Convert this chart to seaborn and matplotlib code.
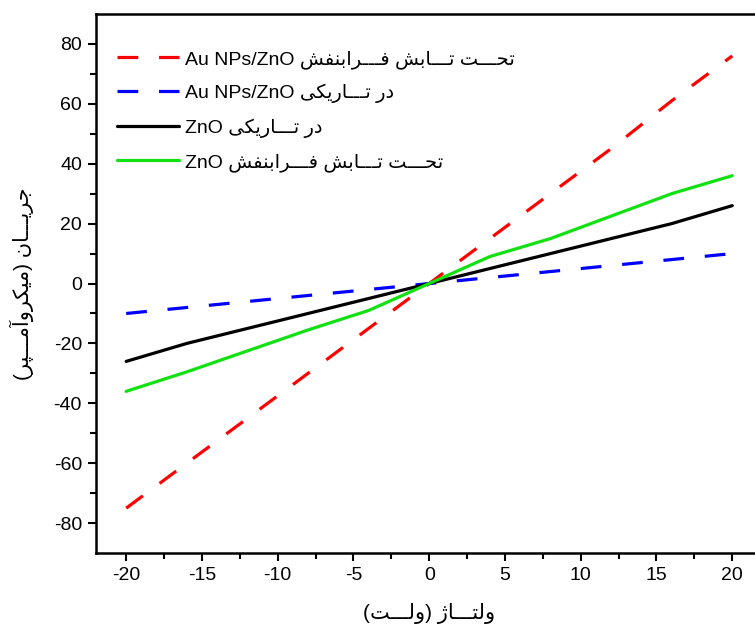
import numpy as np
import pandas as pd
import matplotlib
matplotlib.use("Agg")
import matplotlib.pyplot as plt
import seaborn as sns

# داده ها
voltage = [-20, -16, -12, -8, -4, 0, 4, 8, 12, 16, 20]
au_zno_uv = [-75, -60, -45, -30, -15, 0, 15, 30, 45, 61, 76]
au_zno_dark = [-10, -8, -6, -4, -2, 0, 2, 4, 6, 8, 10]
zno_dark = [-26, -20, -15, -10, -5, 0, 5, 10, 15, 20, 26]
zno_uv = [-36, -29.5, -22.5, -15.5, -9, 0, 9, 15, 22.5, 30, 36]

fa_uv = "تحـــت تـــابش فـــرابنفش"
fa_dark = "در تـــاریکی"
x_title = "ولتـــاژ (ولـــت)"
y_title = "جریـــان (میکروآمـــپر)"

# شکل حروف فارسی (matplotlib خودش حروف را به هم نمی چسباند)
FORMS = {
    'ا': ('\uFE8D', '\uFE8E', None, None),
    'آ': ('\uFE81', '\uFE82', None, None),
    'ب': ('\uFE8F', '\uFE90', '\uFE91', '\uFE92'),
    'پ': ('\uFB56', '\uFB57', '\uFB58', '\uFB59'),
    'ت': ('\uFE95', '\uFE96', '\uFE97', '\uFE98'),
    'ج': ('\uFE9D', '\uFE9E', '\uFE9F', '\uFEA0'),
    'ح': ('\uFEA1', '\uFEA2', '\uFEA3', '\uFEA4'),
    'د': ('\uFEA9', '\uFEAA', None, None),
    'ر': ('\uFEAD', '\uFEAE', None, None),
    'ژ': ('\uFB8A', '\uFB8B', None, None),
    'ش': ('\uFEB5', '\uFEB6', '\uFEB7', '\uFEB8'),
    'ف': ('\uFED1', '\uFED2', '\uFED3', '\uFED4'),
    'ک': ('\uFB8E', '\uFB8F', '\uFB90', '\uFB91'),
    'ل': ('\uFEDD', '\uFEDE', '\uFEDF', '\uFEE0'),
    'م': ('\uFEE1', '\uFEE2', '\uFEE3', '\uFEE4'),
    'ن': ('\uFEE5', '\uFEE6', '\uFEE7', '\uFEE8'),
    'و': ('\uFEED', '\uFEEE', None, None),
    'ی': ('\uFBFC', '\uFBFD', '\uFBFE', '\uFBFF'),
    'ـ': ('\u0640', '\u0640', '\u0640', '\u0640'),
}


def dual(c):
    return c in FORMS and FORMS[c][2] is not None


def fa(s):
    out = []
    for i, c in enumerate(s):
        if c not in FORMS:
            out.append(c)
            continue
        p = i > 0 and dual(s[i - 1])
        n = dual(c) and i + 1 < len(s) and s[i + 1] in FORMS
        k = 3 if (p and n) else 1 if p else 2 if n else 0
        out.append(FORMS[c][k])
    vis = "".join(reversed(out))
    return vis.translate(str.maketrans("()", ")("))


labels = [
    "Au NPs/ZnO " + fa(fa_uv),
    "Au NPs/ZnO " + fa(fa_dark),
    "ZnO " + fa(fa_dark),
    "ZnO " + fa(fa_uv),
]
series = [au_zno_uv, au_zno_dark, zno_dark, zno_uv]
colors = ["#ff0000", "#0000ff", "#000000", "#11e011"]
styles = [(0, (6.5, 6.5)), (0, (6.5, 6.5)), "-", "-"]

sns.set_style("ticks")
plt.rcParams["font.family"] = ["Liberation Sans", "DejaVu Sans"]
plt.rcParams["axes.unicode_minus"] = False
plt.rcParams["text.color"] = "black"
plt.rcParams["axes.labelcolor"] = "black"
plt.rcParams["xtick.color"] = "black"
plt.rcParams["ytick.color"] = "black"
plt.rcParams["axes.edgecolor"] = "black"

fig = plt.figure(figsize=(7.55, 6.35), dpi=100)
ax = fig.add_axes([0.127, 0.129, 0.883, 0.849])

for vals, lab, col, ls in zip(series, labels, colors, styles):
    sns.lineplot(x=voltage, y=vals, ax=ax, color=col, linestyle=ls,
                 linewidth=2.3, label=lab)

ax.set_xlim(-22, 22)
ax.set_ylim(-90, 90)
ax.set_xticks(np.arange(-20, 21, 5))
ax.set_xticks(np.arange(-20, 21, 2.5), minor=True)
ax.set_yticks(np.arange(-80, 81, 20))
ax.set_yticks(np.arange(-80, 81, 10), minor=True)
ax.tick_params(which="major", direction="out", length=6, width=1.5,
               labelsize=14, pad=4)
ax.tick_params(which="minor", direction="out", length=4, width=1.5)
for sp in ax.spines.values():
    sp.set_linewidth(1.8)

ax.set_xlabel(fa(x_title), fontsize=15, labelpad=14)
ax.set_ylabel(fa(y_title), fontsize=15, labelpad=14)

ax.legend(loc="upper left", bbox_to_anchor=(0.031, 0.933), frameon=False,
          fontsize=14, handlelength=3.2, handletextpad=0.3,
          labelspacing=0.78, borderpad=0, borderaxespad=0)

fig.savefig("out.png", dpi=100)
